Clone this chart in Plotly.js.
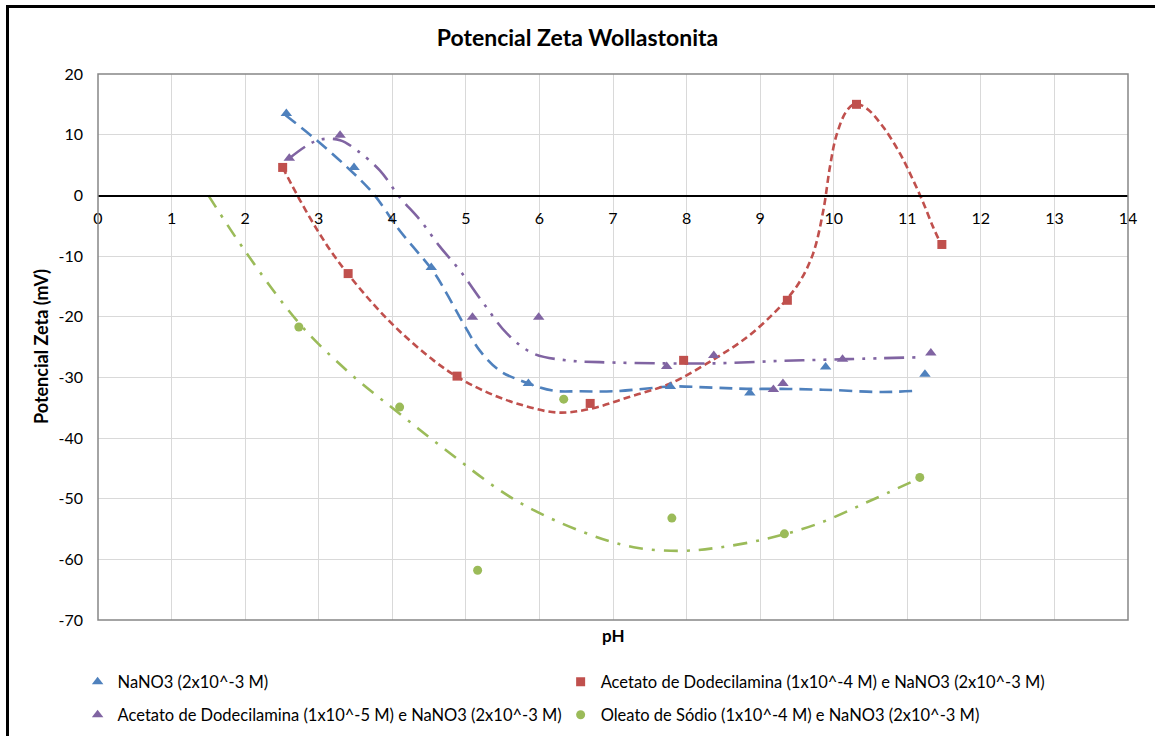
<!DOCTYPE html>
<html>
<head>
<meta charset="utf-8">
<script src="https://cdn.plot.ly/plotly-3.0.1.min.js"></script>
<style>
  html, body { margin: 0; padding: 0; background: #ffffff; }
  #chart { position: absolute; left: 0; top: 0; width: 1155px; height: 736px; }
  #frame {
    position: absolute; left: 6px; top: 5px; width: 1146px; height: 740px;
    border-left: 3px solid #000; border-top: 3px solid #000; border-right: 1px solid #dce8f4;
    pointer-events: none;
  }
</style>
</head>
<body>
<div id="chart"></div>
<div id="frame"></div>
<script>
// Measured zeta potential of wollastonite vs pH
const pH_nano3 = [2.56, 3.48, 4.53, 5.85, 7.78, 8.86, 9.89, 11.24];
const zeta_nano3 = [13.5, 4.6, -11.9, -31.0, -31.5, -32.6, -28.3, -29.5];

const pH_dda4 = [2.51, 3.40, 4.88, 6.69, 7.96, 9.37, 10.31, 11.47];
const zeta_dda4 = [4.6, -12.9, -29.8, -34.3, -27.2, -17.3, 15.0, -8.1];

const pH_dda5 = [2.60, 3.29, 5.09, 5.99, 7.73, 8.37, 9.18, 9.31, 10.12, 11.32];
const zeta_dda5 = [6.1, 9.9, -20.1, -20.1, -28.2, -26.4, -32.0, -31.0, -27.0, -26.0];

const pH_oleato = [2.73, 4.10, 5.16, 6.33, 7.80, 9.33, 11.17];
const zeta_oleato = [-21.7, -34.9, -61.8, -33.6, -53.2, -55.8, -46.5];

// Trend curves (pH, zeta) for each series
const trend_nano3_pH = [2.55, 2.97, 3.38, 3.74, 4.10, 4.56, 4.74, 4.97, 5.19, 5.46, 5.74, 6.19, 6.55, 7.00, 7.50, 7.78, 8.36, 8.82, 9.30, 9.72, 10.00, 10.53, 10.80, 11.15];
const trend_nano3_zeta = [13.2, 9.1, 4.7, 0.3, -5.8, -12.6, -16.2, -21.2, -25.6, -28.9, -30.5, -32.2, -32.3, -32.3, -31.8, -31.5, -31.7, -31.9, -31.9, -32.0, -32.1, -32.4, -32.4, -32.2];

const trend_dda4_pH = [2.51, 2.75, 3.00, 3.20, 3.40, 3.74, 4.10, 4.56, 4.88, 5.24, 5.69, 6.24, 6.69, 7.23, 7.78, 8.36, 8.82, 9.18, 9.37, 9.54, 9.72, 9.86, 9.95, 10.04, 10.18, 10.30, 10.45, 10.67, 10.90, 11.08, 11.22, 11.35, 11.46];
const trend_dda4_zeta = [4.6, -0.9, -6.1, -9.8, -13.0, -17.9, -22.4, -27.2, -29.9, -32.2, -34.3, -35.8, -35.2, -33.2, -31.0, -27.1, -23.4, -19.5, -17.0, -14.2, -9.6, -2.4, 4.8, 10.0, 14.0, 15.1, 14.3, 11.3, 6.9, 2.5, -1.3, -5.2, -8.1];

const trend_dda5_pH = [2.59, 2.84, 3.02, 3.29, 3.52, 3.83, 4.10, 4.38, 4.65, 4.92, 5.24, 5.56, 5.92, 6.37, 6.82, 7.68, 8.36, 9.27, 10.18, 11.13];
const trend_dda5_zeta = [6.0, 8.2, 9.2, 9.1, 7.4, 4.1, -0.3, -4.1, -8.5, -12.4, -17.8, -22.8, -26.1, -27.2, -27.5, -27.7, -27.7, -27.3, -27.0, -26.7];

const trend_oleato_pH = [1.50, 2.00, 2.75, 3.43, 4.10, 4.74, 5.64, 6.55, 7.28, 7.91, 8.41, 9.09, 9.77, 10.45, 11.10];
const trend_oleato_zeta = [0.0, -9.2, -21.3, -29.4, -36.0, -42.1, -50.0, -55.3, -58.0, -58.6, -58.1, -56.6, -54.2, -50.6, -47.0];

const seriesNames = [
  'NaNO3 (2x10^-3 M)',
  'Acetato de Dodecilamina (1x10^-4 M) e NaNO3 (2x10^-3 M)',
  'Acetato de Dodecilamina (1x10^-5 M) e NaNO3 (2x10^-3 M)',
  'Oleato de Sódio (1x10^-4 M) e NaNO3 (2x10^-3 M)'
];

const xTicks = [0, 1, 2, 3, 4, 5, 6, 7, 8, 9, 10, 11, 12, 13, 14];
const yTicks = [20, 10, 0, -10, -20, -30, -40, -50, -60, -70];

const BLUE = '#4F81BD', RED = '#C0504D', PURPLE = '#8064A2', GREEN = '#9BBB59';

function lineTrace(xs, ys, color, dash) {
  return {x: xs, y: ys, mode: 'lines', type: 'scatter', showlegend: false, hoverinfo: 'skip',
          line: {color: color, width: 2.6, dash: dash, shape: 'spline', smoothing: 1}};
}
function markTrace(xs, ys, name, color, symbol, size, legend) {
  return {x: xs, y: ys, mode: 'markers', type: 'scatter', name: name, legend: legend,
          marker: {color: color, symbol: symbol, size: size}};
}

const data = [
  lineTrace(trend_nano3_pH, trend_nano3_zeta, BLUE, '13px,7px'),
  lineTrace(trend_dda4_pH, trend_dda4_zeta, RED, '7px,4px'),
  lineTrace(trend_dda5_pH, trend_dda5_zeta, PURPLE, '20px,8px,3px,8px,3px,8px'),
  lineTrace(trend_oleato_pH, trend_oleato_zeta, GREEN, '14px,9px,3px,9px'),
  markTrace(pH_nano3, zeta_nano3, seriesNames[0], BLUE, 'triangle-up', 10, 'legend'),
  markTrace(pH_dda4, zeta_dda4, seriesNames[1], RED, 'square', 9, 'legend2'),
  markTrace(pH_dda5, zeta_dda5, seriesNames[2], PURPLE, 'triangle-up', 10, 'legend3'),
  markTrace(pH_oleato, zeta_oleato, seriesNames[3], GREEN, 'circle', 9, 'legend4')
];

const FONT = 'Lato, "Open Sans", sans-serif';

// One legend box per entry, laid out as a 2x2 grid below the plot
function legendCell(x, y) {
  return {
    xref: 'container', yref: 'container', x: x, y: y, xanchor: 'left', yanchor: 'middle',
    itemwidth: 30, font: {family: FONT, size: 16.5, color: '#000'}, bgcolor: 'rgba(0,0,0,0)'
  };
}
const colX = [0.0672, 0.4854];
const rowY = [1 - 682 / 736, 1 - 715 / 736];

const layout = {
  width: 1155, height: 736,
  margin: {l: 98, r: 27, t: 74, b: 116, autoexpand: false},
  paper_bgcolor: '#ffffff', plot_bgcolor: '#ffffff',
  font: {family: FONT, size: 16, color: '#000000'},
  title: {text: 'Potencial Zeta Wollastonita', x: 0.5, xref: 'container', y: 0.948, yanchor: 'middle',
          font: {family: FONT, size: 23, weight: 'bold', color: '#000'}},
  xaxis: {
    range: [0, 14], tickvals: xTicks, ticktext: xTicks.map(String),
    showgrid: true, gridcolor: '#D9D9D9', gridwidth: 1,
    zeroline: false, showline: true, linecolor: '#000000', linewidth: 1.2,
    anchor: 'free', position: 70 / 90, ticks: '', ticklabelstandoff: 8,
    tickfont: {family: FONT, size: 16, color: '#000'}
  },
  yaxis: {
    range: [-70, 20], tickvals: yTicks, ticktext: yTicks.map(String),
    showgrid: true, gridcolor: '#D9D9D9', gridwidth: 1,
    zeroline: false, showline: false, ticks: '', ticklabelstandoff: 14,
    tickfont: {family: FONT, size: 16, color: '#000'}
  },
  shapes: [{type: 'rect', xref: 'paper', yref: 'paper', x0: 0, x1: 1, y0: 0, y1: 1,
            line: {color: '#868686', width: 1.5}, layer: 'above'}],
  annotations: [
    {text: 'pH', xref: 'paper', yref: 'paper', x: 0.5, y: 0, yshift: -15, yanchor: 'middle',
     showarrow: false, font: {family: FONT, size: 17, weight: 'bold', color: '#000'}},
    {text: 'Potencial Zeta (mV)', xref: 'paper', yref: 'paper', x: 0, xshift: -57, y: 0.5,
     xanchor: 'center', yanchor: 'middle', textangle: -90,
     showarrow: false, font: {family: FONT, size: 18, weight: 'bold', color: '#000'}}
  ],
  legend: legendCell(colX[0], rowY[0]),
  legend2: legendCell(colX[1], rowY[0]),
  legend3: legendCell(colX[0], rowY[1]),
  legend4: legendCell(colX[1], rowY[1]),
  showlegend: true
};

Plotly.newPlot('chart', data, layout, {displayModeBar: false, staticPlot: true});
</script>
</body>
</html>
